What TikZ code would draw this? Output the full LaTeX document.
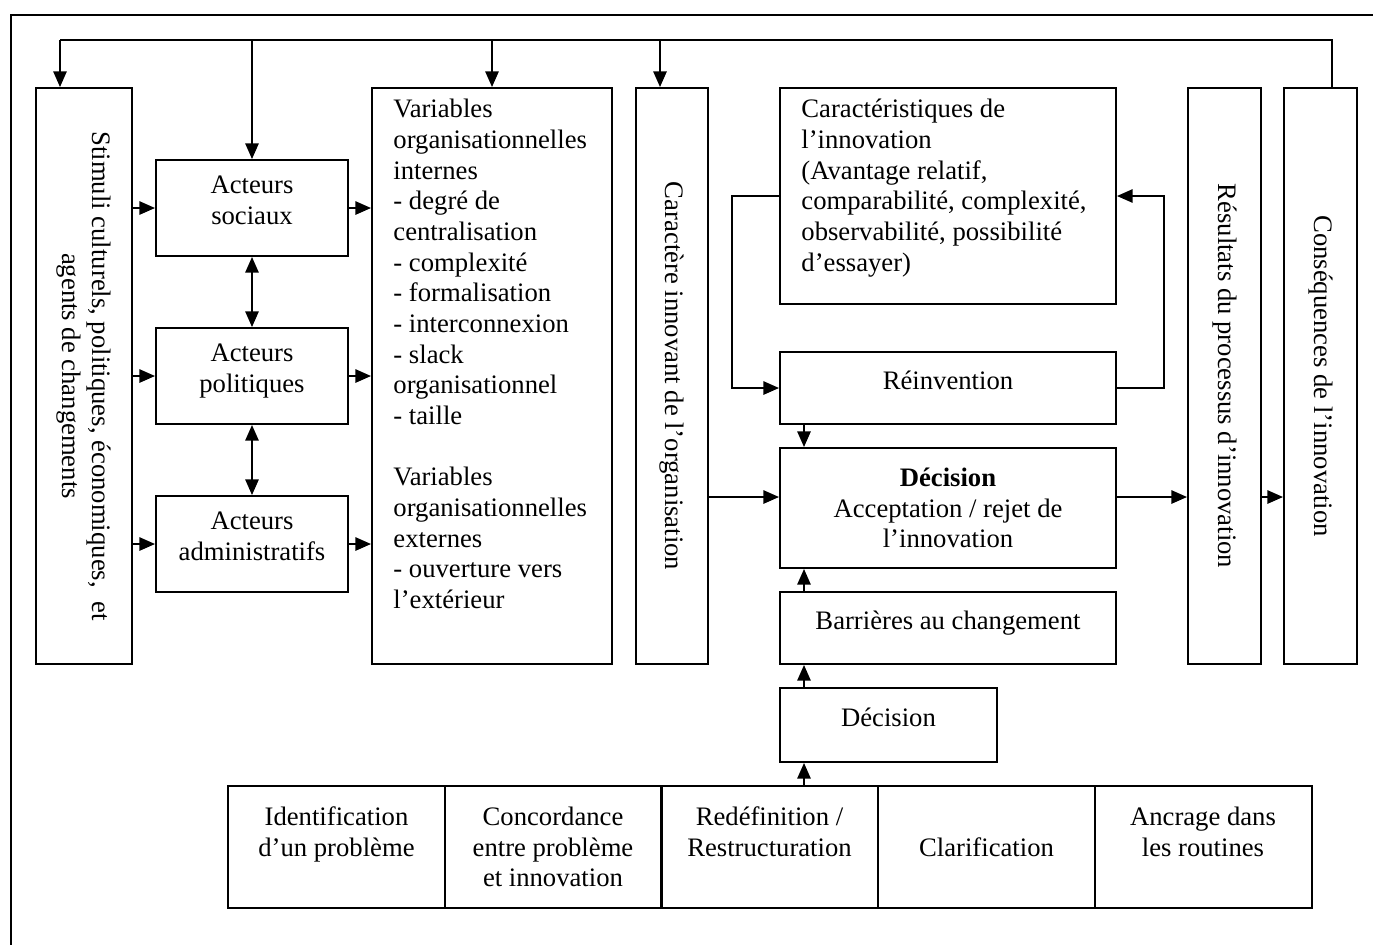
\documentclass[tikz,border=0pt]{standalone}
\usepackage{fontspec}
\setmainfont{Liberation Serif}
\usepackage{tikz}
\usetikzlibrary{arrows.meta}

\newcommand{\pxu}{0.45pt}

\begin{document}
\begin{tikzpicture}[>={Triangle[length=7pt,width=6pt]}, x=\pxu, y=-\pxu,
    font=\fontsize{12}{13.8}\selectfont,
    box/.style={draw, line width=0.9pt, inner sep=0pt, align=center},
    sz/.style n args={2}{minimum width=#1*\pxu, minimum height=#2*\pxu},
    lift/.style={text depth=7pt},
    txt/.style={inner sep=0pt, align=left, anchor=north west},
    link/.style={line width=0.7pt}]
        \useasboundingbox (0,0) rectangle (1373,945);
        % cadre
        \draw [line width=1.3pt] (1373,15) -- (11,15) -- (11,945);
        % colonnes de gauche
        \node [box, sz={96}{576}] (stim) at (84,376) {};
        \node [rotate=-90, align=center] (stimT) at (stim) {Stimuli culturels, politiques, économiques,\ \ et\\agents de changements};
        \node [box, lift, sz={192}{96}] (soc) at (252,208) {Acteurs\\sociaux};
        \node [box, lift, sz={192}{96}] (pol) at (252,376) {Acteurs\\politiques};
        \node [box, lift, sz={192}{96}] (adm) at (252,544) {Acteurs\\administratifs};
        \node [box, sz={240}{576}] (var) at (492,376) {};
        \node [txt] (varT) at (393,99) {Variables\\organisationnelles\\internes\\- degré de\\centralisation\\- complexité\\- formalisation\\- interconnexion\\- slack\\organisationnel\\- taille\\[13.8pt]Variables\\organisationnelles\\externes\\- ouverture vers\\l’extérieur};
        \node [box, sz={72}{576}] (carac) at (672,376) {};
        \node [rotate=-90] (caracT) at (carac) {Caractère innovant de l’organisation};
        % bloc central
        \node [box, sz={336}{216}] (car) at (948,196) {};
        \node [txt] (carT) at (801,99) {Caractéristiques de\\l’innovation\\(Avantage relatif,\\comparabilité, complexité,\\observabilité, possibilité\\d’essayer)};
        \node [box, lift, sz={336}{72}] (rei) at (948,388) {Réinvention};
        \node [box, sz={336}{120}] (dec) at (948,508) {\textbf{Décision}\\Acceptation / rejet de\\l’innovation};
        \node [box, lift, sz={336}{72}] (bar) at (948,628) {Barrières au changement};
        \node [box, lift, sz={217}{74}] (dec2) at (888.5,725) {Décision};
        % colonnes de droite
        \node [box, sz={73}{576}] (res) at (1224.5,376) {};
        \node [rotate=-90] (resT) at (res) {Résultats du processus d’innovation};
        \node [box, sz={73}{576}] (cons) at (1320.5,376) {};
        \node [rotate=-90] (consT) at (cons) {Conséquences de l’innovation};
        % étapes
        \node [box, sz={217}{122}] (ident) at (336.5,847) {Identification\\d’un problème\\~};
        \node [box, sz={217}{122}] (concord) at (553,847) {Concordance\\entre problème\\et innovation};
        \node [box, sz={217}{122}] (redef) at (769.5,847) {Redéfinition /\\Restructuration\\~};
        \node [box, sz={217}{122}] (clarif) at (986.5,847) {Clarification};
        \node [box, sz={217}{122}] (ancr) at (1203,847) {Ancrage dans\\les routines\\~};
        % rétroaction
        \coordinate (fbL) at (60,40);
        \coordinate (fbC) at (660,40);
        \coordinate (fbR) at (1332,40);
        \draw [link] (fbR |- cons.north) -- (fbR) -- (fbL);
        \draw [link,->] (fbL) -- (fbL |- stim.north);
        \draw [link,->] (soc.north |- fbL) -- (soc.north);
        \draw [link,->] (var.north |- fbL) -- (var.north);
        \draw [link,->] (fbC) -- (fbC |- carac.north);
        % acteurs
        \foreach \a in {soc,pol,adm} {
            \draw [link,->] (stim.east |- \a) -- (\a.west);
            \draw [link,->] (\a.east) -- (var.west |- \a);
        }
        \draw [link,<->] (soc.south) -- (pol.north);
        \draw [link,<->] (pol.south) -- (adm.north);
        % réinvention
        \draw [link,->] (car.west) -- ++(-47,0) |- (rei.west);
        \draw [link,->] (rei.east) -- ++(47,0) |- (car.east);
        % axe vertical
        \coordinate (spine) at (804,0);
        \draw [link,->] (rei.south -| spine) -- (dec.north -| spine);
        \draw [link,->] (bar.north -| spine) -- (dec.south -| spine);
        \draw [link,->] (dec2.north -| spine) -- (bar.south -| spine);
        \draw [link,->] (redef.north -| spine) -- (dec2.south -| spine);
        % axe horizontal
        \coordinate (lvl) at (0,497);
        \draw [link,->] (carac.east |- lvl) -- (dec.west |- lvl);
        \draw [link,->] (dec.east |- lvl) -- (res.west |- lvl);
        \draw [link,->] (res.east |- lvl) -- (cons.west |- lvl);
\end{tikzpicture}
\end{document}
